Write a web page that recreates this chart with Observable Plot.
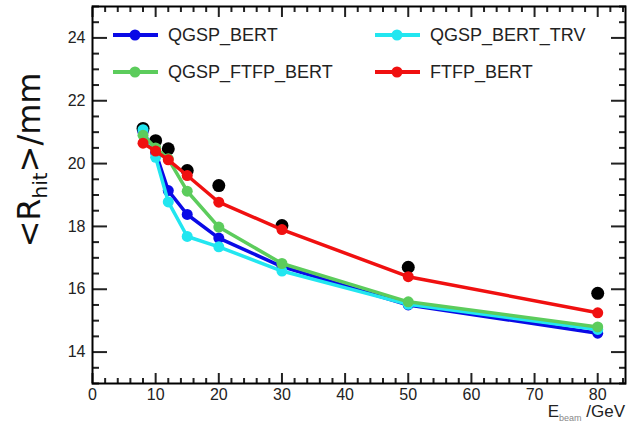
<!DOCTYPE html>
<html>
<head>
<meta charset="utf-8">
<script src="https://cdn.jsdelivr.net/npm/d3@7"></script>
<script src="https://cdn.jsdelivr.net/npm/@observablehq/plot@0.6"></script>
<style>
  html, body { margin: 0; padding: 0; background: #fff; }
  #wrap { position: relative; width: 628px; height: 422px; font-family: "Liberation Sans", Arial, sans-serif; }
  #ylab { position: absolute; left: 50px; top: 160px; transform-origin: 0 0; transform: rotate(-90deg) translate(-50%, -100%);
          font-family: "DejaVu Sans", sans-serif; font-size: 32px; color: #111; white-space: nowrap; line-height: 1; }
  #ylab sub { font-size: 20px; vertical-align: -0.35em; }
  #xlab { position: absolute; right: 3px; top: 403px; font-size: 17px; line-height: 17px; color: #222; white-space: nowrap; }
  #xlab sub { font-size: 9px; color: #888; line-height: 9px; }
  .leg { position: absolute; display: flex; align-items: center; font-size: 18px; color: #222; white-space: nowrap; }
  .leg svg { margin-right: 10px; }
</style>
</head>
<body>
<div id="wrap"></div>
<script>
const energies = [8, 10, 12, 15, 20, 30, 50, 80];
const dataR     = [21.12, 20.73, 20.47, 19.78, 19.30, 18.03, 16.70, 15.87];
const qgspBert  = [21.00, 20.35, 19.14, 18.38, 17.63, 16.72, 15.50, 14.60];
const qgspTrv   = [21.08, 20.20, 18.78, 17.68, 17.35, 16.58, 15.52, 14.72];
const qgspFtfp  = [20.90, 20.50, 20.15, 19.12, 17.98, 16.82, 15.60, 14.80];
const ftfpBert  = [20.65, 20.40, 20.12, 19.62, 18.77, 17.90, 16.40, 15.25];

const xMajor = [0, 10, 20, 30, 40, 50, 60, 70, 80];
const yMajor = [14, 16, 18, 20, 22, 24];

const seriesNames = ["QGSP_BERT", "QGSP_BERT_TRV", "QGSP_FTFP_BERT", "FTFP_BERT"];
const seriesColors = ["#0a0ae6", "#22e6f0", "#5ccc5c", "#f01010"];
const seriesVals = [qgspBert, qgspTrv, qgspFtfp, ftfpBert];
const drawOrder = [0, 1, 2, 3];

const dataPts = energies.map((e, i) => ({e, r: dataR[i]}));
const modelMarks = drawOrder.flatMap(k => {
  const pts = energies.map((e, i) => ({e, r: seriesVals[k][i]}));
  return [
    Plot.line(pts, {x: "e", y: "r", stroke: seriesColors[k], strokeWidth: 3.5}),
    Plot.dot(pts, {x: "e", y: "r", fill: seriesColors[k], r: 5.5})
  ];
});

const xMinor = d3.range(0, 85, 2).filter(v => v % 10 !== 0);
const yMinor = d3.range(13, 25.01, 0.5).filter(v => v % 2 !== 0);

const chart = Plot.plot({
  width: 628, height: 422,
  marginLeft: 92, marginRight: 3, marginTop: 6, marginBottom: 39,
  style: {fontFamily: "Liberation Sans, Arial, sans-serif", fontSize: "16px", color: "#222", background: "white"},
  x: {domain: [0, 84.4]},
  y: {domain: [13, 25]},
  marks: [
    Plot.axisX({ticks: xMajor, tickSize: 0, tickPadding: 5, label: null}),
    Plot.axisY({ticks: yMajor, tickSize: 0, tickPadding: 7, label: null}),
    Plot.axisX({anchor: "bottom", ticks: xMajor, tickSize: -10, tickFormat: () => "", label: null, strokeWidth: 2}),
    Plot.axisX({anchor: "bottom", ticks: xMinor, tickSize: -5, tickFormat: () => "", label: null, strokeWidth: 2}),
    Plot.axisX({anchor: "top", ticks: xMajor, tickSize: -10, tickFormat: () => "", label: null, strokeWidth: 2}),
    Plot.axisX({anchor: "top", ticks: xMinor, tickSize: -5, tickFormat: () => "", label: null, strokeWidth: 2}),
    Plot.axisY({anchor: "left", ticks: yMajor, tickSize: -15, tickFormat: () => "", label: null, strokeWidth: 2}),
    Plot.axisY({anchor: "left", ticks: yMinor, tickSize: -7, tickFormat: () => "", label: null, strokeWidth: 2}),
    Plot.axisY({anchor: "right", ticks: yMajor, tickSize: -15, tickFormat: () => "", label: null, strokeWidth: 2}),
    Plot.axisY({anchor: "right", ticks: yMinor, tickSize: -7, tickFormat: () => "", label: null, strokeWidth: 2}),
    Plot.frame({stroke: "black", strokeWidth: 2}),
    Plot.dot(dataPts, {x: "e", y: "r", fill: "black", r: 6.5}),
    ...modelMarks
  ]
});

const wrap = document.getElementById("wrap");
wrap.appendChild(chart);

// legend
const legPos = [
  {left: 113, top: 35}, {left: 375, top: 35},
  {left: 113, top: 72}, {left: 375, top: 72}
];
seriesNames.forEach((name, k) => {
  const d = document.createElement("div");
  d.className = "leg";
  d.style.left = legPos[k].left + "px";
  d.style.top = (legPos[k].top - 12) + "px";
  d.style.height = "24px";
  d.innerHTML = `<svg width="45" height="14"><line x1="0" x2="45" y1="7" y2="7" stroke="${seriesColors[k]}" stroke-width="4"/><circle cx="22" cy="7" r="5.5" fill="${seriesColors[k]}"/></svg><span>${name}</span>`;
  wrap.appendChild(d);
});

const yl = document.createElement("div");
yl.id = "ylab";
yl.innerHTML = "&lt;R<sub>hit</sub>&gt;/mm";
wrap.appendChild(yl);

const xl = document.createElement("div");
xl.id = "xlab";
xl.innerHTML = "E<sub>beam</sub> /GeV";
wrap.appendChild(xl);
</script>
</body>
</html>
